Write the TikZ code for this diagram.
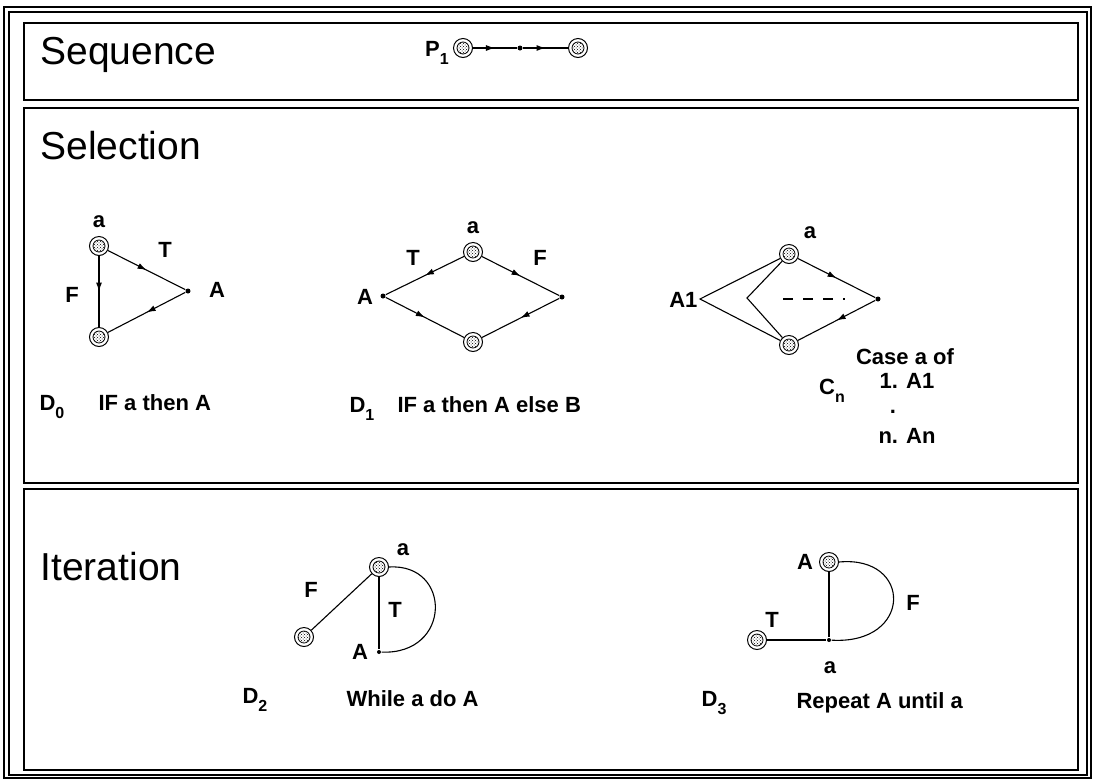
\documentclass[tikz,border=0pt]{standalone}
\usepackage{fontspec}
\setmainfont{Liberation Sans}
\usetikzlibrary{arrows.meta,positioning,decorations.markings,patterns}
\newcommand\subidx[1]{\raisebox{-0.4em}{\fontsize{16}{16}\selectfont #1}}

\begin{document}
\begin{tikzpicture}[x=1pt,y=-1pt,
  line width=1.1pt,
  frame/.style={line width=1.6pt},
  dec/.style={circle,draw,line width=1pt,minimum size=19pt,inner sep=0pt,
    path picture={\draw[line width=0.8pt,pattern=crosshatch dots]
      (path picture bounding box.center) circle (6pt);}},
  stmt/.style={circle,fill,minimum size=5pt,inner sep=0pt},
  lbl/.style={font=\fontsize{22}{24}\selectfont\bfseries,inner sep=1pt},
  caption/.style={lbl,anchor=base west},
  title/.style={font=\fontsize{39}{44}\selectfont,anchor=base west,inner sep=0pt},
  midarr/.style={postaction={decorate},decoration={markings,
    mark=at position 0.5 with {\arrow{Latex[length=9pt,width=6pt]}}}}
]
\useasboundingbox (0,0) rectangle (1094,780);

% frames
\draw[frame] (4,7) rectangle (1091,778);
\draw[frame] (9,12) rectangle (1087,775);
\draw[frame] (24,23) rectangle (1078,100);
\draw[frame] (24,108) rectangle (1078,483);
\draw[frame] (24,489) rectangle (1078,770);

\node[title] (seq) at (40,64) {Sequence};
\node[title] (sel) at (40,159) {Selection};
\node[title] (ite) at (40,580) {Iteration};

% sequence P1
\node[lbl,anchor=base] (p1) at (437,56) {P\subidx{1}};
\node[dec] (s1) at (463,48) {};
\node[stmt] (s2) at (520,48) {};
\node[dec] (s3) at (578,48) {};
\draw[midarr] (s1) -- (s2);
\draw[midarr] (s2) -- (s3);

% D0
\node[dec] (d0a) at (99,246) {};
\node[stmt] (d0A) at (188,291) {};
\node[dec] (d0b) at (99,337) {};
\node[lbl] (d0al) at (99,222) {a};
\node[lbl] (d0T) at (165,250) {T};
\node[lbl] (d0F) at (72,295) {F};
\node[lbl] (d0Al) at (217,290) {A};
\draw[midarr] (d0a) -- (d0A);
\draw[midarr] (d0A) -- (d0b);
\draw[midarr] (d0a) -- (d0b);
\node[lbl,anchor=base] (d0n) at (52,410) {D\subidx{0}};
\node[caption] (d0c) at (97,410) {IF a then A};

% D1
\node[dec] (d1a) at (473,252) {};
\node[stmt] (d1A) at (383,296) {};
\node[stmt] (d1B) at (562,297) {};
\node[dec] (d1b) at (473,342) {};
\node[lbl] (d1al) at (473,228) {a};
\node[lbl] (d1Al) at (365,297) {A};
\node[lbl] (d1T) at (413,258) {T};
\node[lbl] (d1F) at (540,258) {F};
\draw[midarr] (d1a) -- (d1A);
\draw[midarr] (d1a) -- (d1B);
\draw[midarr] (d1A) -- (d1b);
\draw[midarr] (d1B) -- (d1b);
\node[lbl,anchor=base] (d1n) at (362,412) {D\subidx{1}};
\node[caption] (d1c) at (396,412) {IF a then A else B};

% Cn
\node[dec] (cna) at (789,254) {};
\node[dec] (cnb) at (789,345) {};
\node[stmt] (cnR) at (878,299) {};
\coordinate (cnA1) at (700,299);
\coordinate (cnI) at (747,298);
\node[lbl,anchor=east] (cnA1l) at (699,300) {A1};
\node[lbl] (cnal) at (810,233) {a};
\draw (cna) -- (cnA1) -- (cnb);
\draw (cna) -- (cnI) -- (cnb);
\draw[midarr] (cna) -- (cnR);
\draw[midarr] (cnR) -- (cnb);
\draw[dash pattern=on 10pt off 10pt] (783,299) -- (845,299);
\node[lbl,anchor=base] (cnn) at (832,394) {C\subidx{n}};
\node[lbl] (cnc1) at (905,357) {Case a of};
\node[lbl] (cnc2) at (907,381) {1. A1};
\node[lbl,inner sep=0pt] (cnc3) at (893,412) {.};
\node[lbl] (cnc4) at (907,436) {n. An};

% D2
\node[dec] (d2a) at (379,567) {};
\node[dec] (d2f) at (304,637) {};
\node[stmt,minimum size=4pt] (d2A) at (379,652) {};
\node[lbl] (d2al) at (403,550) {a};
\node[lbl] (d2Al) at (360,652) {A};
\node[lbl] (d2T) at (395,610) {T};
\node[lbl] (d2F) at (311,590) {F};
\draw (d2a) -- (d2f);
\draw (d2a) -- (d2A);
\draw (d2a.east) .. controls (452,563) and (452,655) .. (d2A);
\node[lbl,anchor=base] (d2n) at (255,703) {D\subidx{2}};
\node[caption] (d2c) at (345,706) {While a do A};

% D3
\node[dec] (d3A) at (829,562) {};
\node[stmt,minimum size=4pt] (d3j) at (829,640) {};
\node[dec] (d3t) at (757,640) {};
\node[lbl] (d3Al) at (805,562) {A};
\node[lbl] (d3jl) at (830,668) {a};
\node[lbl] (d3T) at (772,620) {T};
\node[lbl] (d3F) at (913,603) {F};
\draw (d3A) -- (d3j);
\draw (d3t) -- (d3j);
\draw (d3A.east) .. controls (913,555) and (913,645) .. (d3j);
\node[lbl,anchor=base] (d3n) at (714,706) {D\subidx{3}};
\node[caption] (d3c) at (795,708) {Repeat A until a};
\end{tikzpicture}
\end{document}
